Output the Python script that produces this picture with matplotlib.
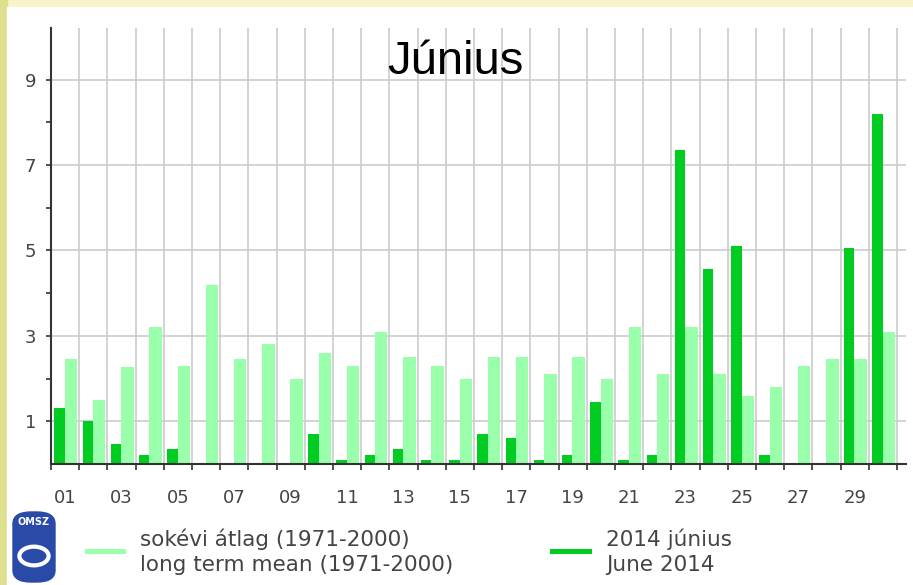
import numpy as np
import matplotlib.pyplot as plt
from matplotlib.lines import Line2D
from matplotlib.patches import Rectangle, FancyBboxPatch, Circle

# Napi csapadék, 2014 június vs sokévi átlag (mm)
days = list(range(1, 31))
june_2014 = [1.30, 1.00, 0.46, 0.20, 0.35, 0.00, 0.00, 0.00, 0.00, 0.70,
             0.10, 0.20, 0.35, 0.10, 0.10, 0.70, 0.60, 0.10, 0.20, 1.45,
             0.10, 0.20, 7.35, 4.56, 5.10, 0.20, 0.00, 0.00, 5.05, 8.20]
long_term = [2.45, 1.51, 2.26, 3.20, 2.30, 4.20, 2.45, 2.81, 2.00, 2.61,
             2.30, 3.10, 2.51, 2.30, 2.00, 2.51, 2.51, 2.10, 2.51, 2.00,
             3.20, 2.10, 3.20, 2.10, 1.60, 1.80, 2.30, 2.45, 2.45, 3.10]
xlabels = ['%02d' % d for d in days]
yvalues = [1, 3, 5, 7, 9]

dark = '#00cc22'
light = '#99ffaa'
W, H = 913, 585

fig = plt.figure(figsize=(W / 100, H / 100), dpi=100, facecolor='#f7f4c9')
# white panel + left decorative strip
fig.add_artist(Rectangle((0, 0), 7 / W, 1, transform=fig.transFigure,
                         color='#dfe08f', zorder=0))
fig.add_artist(Rectangle((7 / W, 0), 1, 1 - 7 / H, transform=fig.transFigure,
                         color='white', zorder=0))

left, right, top, bottom = 51, 906, 28, 464
ax = fig.add_axes([left / W, (H - bottom) / H, (right - left) / W, (bottom - top) / H])
ax.set_facecolor('white')

x = np.array(days)
ax.bar(x - 0.5 + 0.12, june_2014, width=0.37, align='edge', color=dark,
       linewidth=0, zorder=2)
ax.bar(x - 0.5 + 0.49, long_term, width=0.44, align='edge', color=light,
       linewidth=0, zorder=2)

ax.set_xlim(0.5, 30.82)
ax.set_ylim(0, 10.21)

# boundaries as major ticks, labels on odd days as minor ticks
ax.set_xticks(np.arange(0.5, 31, 1))
ax.set_xticklabels([])
ax.set_xticks(x[::2], minor=True)
ax.set_xticklabels(xlabels[::2], minor=True)
ax.tick_params(axis='x', which='major', length=4.3, width=1.2, color='#333333')
ax.tick_params(axis='x', which='minor', length=0, pad=18, labelsize=13, labelcolor='#444444')

ax.set_yticks(yvalues)
ax.set_yticks([2, 4, 6, 8], minor=True)
ax.tick_params(axis='y', which='both', length=3.6, width=1.2, color='#333333',
               labelsize=13, labelcolor='#444444', pad=7)

ax.grid(True, which='major', color='#cccccc', linewidth=1.2, zorder=0)
ax.set_axisbelow(True)
for s in ['top', 'right']:
    ax.spines[s].set_visible(False)
for s in ['left', 'bottom']:
    ax.spines[s].set_color('#333333')
    ax.spines[s].set_linewidth(1.5)
    ax.spines[s].set_zorder(3)

fig.text(455 / W, 1 - 62 / H, 'Június', fontsize=34, family='Liberation Sans',
         ha='center', va='center')

# legend
fig.add_artist(Line2D([87 / W, 123 / W], [1 - 551 / H] * 2, color=light, lw=3.6))
fig.add_artist(Line2D([552 / W, 589 / W], [1 - 551 / H] * 2, color=dark, lw=3.6))
fig.text(140 / W, 1 - 552 / H, 'sokévi átlag (1971-2000)\nlong term mean (1971-2000)',
         fontsize=15.5, color='#444444', va='center', linespacing=1.32)
fig.text(606 / W, 1 - 552 / H, '2014 június\nJune 2014',
         fontsize=15.5, color='#444444', va='center', linespacing=1.32)

# OMSZ logo
fig.add_artist(FancyBboxPatch((13 / W, 1 - 582 / H), 42 / W, 70 / H,
                              boxstyle='round,pad=0,rounding_size=0.02',
                              transform=fig.transFigure, color='#2a4aa8'))
fig.text(34 / W, 1 - 522 / H, 'OMSZ', fontsize=7, color='white', weight='bold',
         ha='center', va='center')
fig.add_artist(Circle((34 / W, 1 - 556 / H), 0.016, transform=fig.transFigure,
                      fill=False, ec='white', lw=3))

fig.savefig('out.png', dpi=100, facecolor=fig.get_facecolor())
